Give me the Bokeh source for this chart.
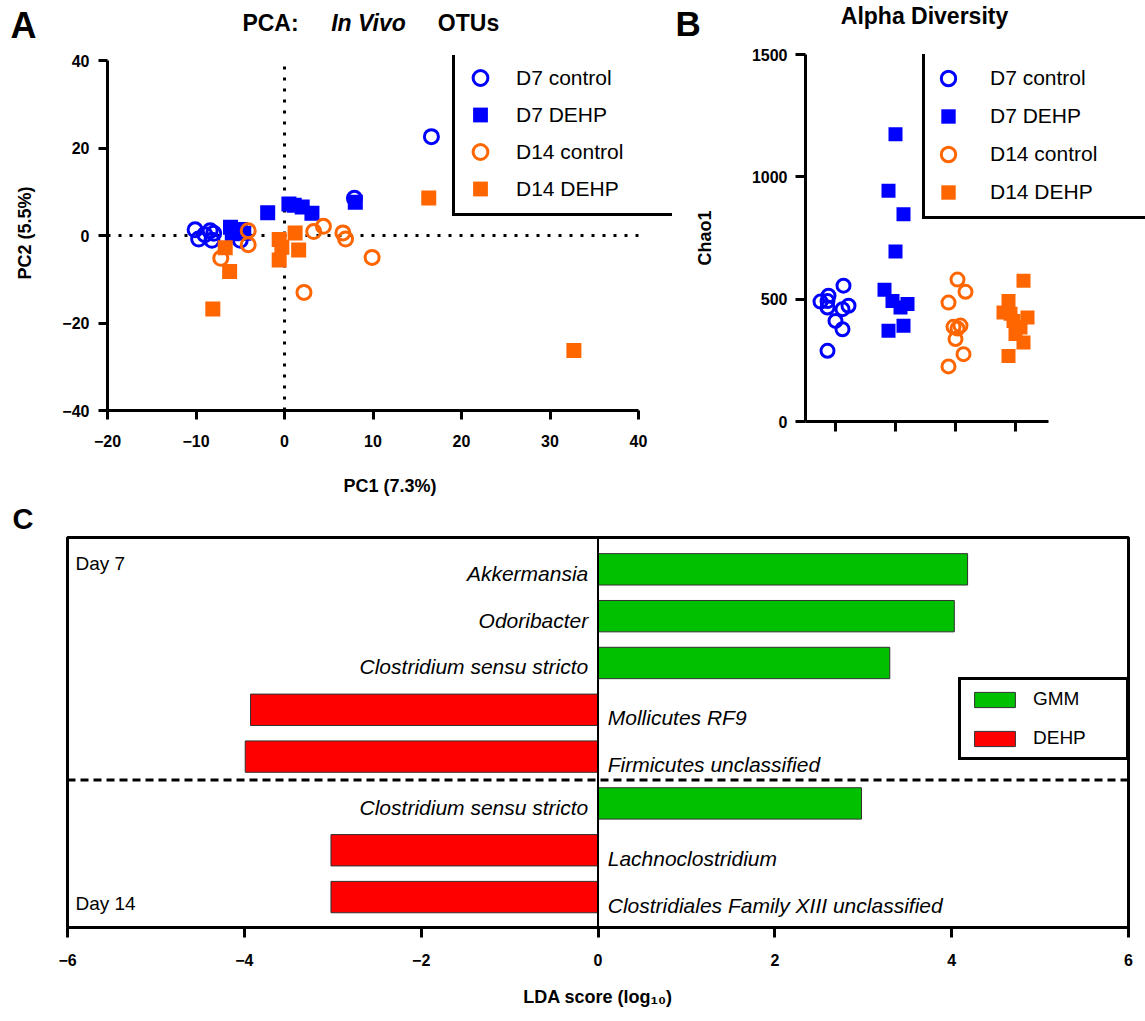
from bokeh.plotting import figure
from bokeh.models import Legend, LegendItem, Span, Label, FixedTicker, ColumnDataSource, Range1d
from bokeh.layouts import row, column
from bokeh.embed import file_html
from bokeh.resources import INLINE
from bokeh.core.properties import value

FONT = "Liberation Sans"
BLUE = "#0000FF"
ORANGE = "#FF6600"
GREEN = "#00C000"
RED = "#FF0000"

# ---------------- Panel A data (PCA) ----------------
d7_control_pc1 = [16.6, 7.9, -10.1, -9.7, -8.4, -8.2, -8.0, -9.0, -5.0]
d7_control_pc2 = [22.6, 8.5, 1.3, -0.8, 1.1, -1.1, 0.5, 0.2, -1.1]
d7_dehp_pc1 = [-1.9, 0.5, 2.0, 3.1, 8.0, -6.1, -5.9, -4.6, -5.0, 1.1]
d7_dehp_pc2 = [5.2, 7.2, 6.5, 5.1, 7.6, 1.9, 0.4, 0.5, 1.4, 6.9]
d14_control_pc1 = [-4.1, -4.1, -7.2, 2.2, 3.3, 4.4, 6.6, 6.9, 9.9]
d14_control_pc2 = [1.1, -2.1, -5.2, -13.0, 0.9, 2.1, 0.6, -0.8, -5.0]
d14_dehp_pc1 = [16.3, -6.7, -6.2, -8.1, -0.6, -0.3, -0.6, 1.2, 1.6, 32.7]
d14_dehp_pc2 = [8.6, -2.8, -8.2, -16.8, -0.9, -2.7, -5.6, 0.6, -3.3, -26.3]
pc1_ticks = [-20, -10, 0, 10, 20, 30, 40]
pc2_ticks = [-40, -20, 0, 20, 40]

# ---------------- Panel B data (Chao1) ----------------
groups = ["D7 control", "D7 DEHP", "D14 control", "D14 DEHP"]
chao1_d7_control = [555, 514, 492, 490, 473, 466, 459, 411, 377, 289]
chao1_d7_dehp = [1174, 943, 847, 695, 538, 493, 466, 480, 371, 391]
chao1_d14_control = [580, 530, 486, 392, 387, 380, 337, 275, 225]
chao1_d14_dehp = [575, 493, 445, 440, 425, 411, 384, 358, 323, 268]
chao1_ticks = [0, 500, 1000, 1500]
# horizontal scatter spread (pixels) for the dot plot
spread_d7_control = [8, -7, -8, -15, 13, -8, 7, 0, 7, -8]
spread_d7_dehp = [0, -7, 8, 0, -11, -3, 5, 12, -7, 8]
spread_d14_control = [2, 10, -7, 5, -2, 2, 0, 8, -7]
spread_d14_dehp = [8, -7, -12, -5, 12, -2, 5, 0, 8, -7]

# ---------------- Panel C data (LDA) ----------------
taxa = ["Akkermansia", "Odoribacter", "Clostridium sensu stricto", "Mollicutes RF9",
        "Firmicutes unclassified", "Clostridium sensu stricto", "Lachnoclostridium",
        "Clostridiales Family XIII unclassified"]
lda_score = [4.18, 4.03, 3.30, -3.93, -3.99, 2.98, -3.02, -3.02]
enriched_in = ["GMM", "GMM", "GMM", "DEHP", "DEHP", "GMM", "DEHP", "DEHP"]
day = [7, 7, 7, 7, 7, 14, 14, 14]
lda_ticks = [-6, -4, -2, 0, 2, 4, 6]


def style_axis(ax, tick_size="16px", out=9, standoff=8, lab_standoff=20):
    ax.axis_line_width = 3
    ax.axis_line_color = "black"
    ax.major_tick_line_width = 3
    ax.major_tick_line_color = "black"
    ax.major_tick_in = 0
    ax.major_tick_out = out
    ax.minor_tick_line_color = None
    ax.major_label_text_font = FONT
    ax.major_label_text_font_style = "bold"
    ax.major_label_text_font_size = tick_size
    ax.major_label_text_color = "black"
    ax.major_label_standoff = standoff
    ax.axis_label_text_font = FONT
    ax.axis_label_text_font_style = "bold"
    ax.axis_label_text_font_size = "18px"
    ax.axis_label_text_color = "black"
    ax.axis_label_standoff = lab_standoff


def legend_style(**kw):
    base = dict(spacing=0, margin=0, border_line_color="black", border_line_width=3,
                border_line_alpha=1.0, label_text_font=FONT, label_text_color="black",
                background_fill_color="white", background_fill_alpha=1.0)
    base.update(kw)
    return base


def strip(width, height, y_top, y_bottom):
    s = figure(width=width, height=height, x_range=Range1d(0, width), y_range=Range1d(y_bottom, y_top),
               x_axis_location=None, y_axis_location=None, min_border=0, output_backend="svg",
               toolbar_location=None)
    s.grid.visible = False
    s.outline_line_color = None
    return s


def text_label(p, x, y, text, size, style="bold", align="left"):
    p.add_layout(Label(x=x, y=y, text=text, text_font=FONT, text_font_size=size,
                       text_font_style=style, text_align=align, text_baseline="middle",
                       text_color="black"))


# ================= Header strip (panel letters and titles) =================
top = strip(1145, 45, 0, 45)
text_label(top, 10, 25, "A", "36px")
text_label(top, 675, 23, "B", "35px")
text_label(top, 270, 22, "PCA:", "23px", align="center")
text_label(top, 368, 22, "In Vivo", "23px", style="bold italic", align="center")
text_label(top, 468, 22, "OTUs", "23px", align="center")
text_label(top, 924, 15, "Alpha Diversity", "23px", align="center")

# ================= Panel A =================
PXA = 531 / 60.0
pA = figure(width=690, height=456, x_range=Range1d(-20, 40 + 34 / PXA), y_range=Range1d(-40, 40 + 5 / 4.375),
            output_backend="svg", toolbar_location=None,
            min_border_left=107, min_border_right=18, min_border_top=10, min_border_bottom=91)
pA.grid.visible = False
pA.outline_line_color = None
pA.xaxis.ticker = FixedTicker(ticks=pc1_ticks)
pA.yaxis.ticker = FixedTicker(ticks=pc2_ticks)
pA.xaxis.bounds = (pc1_ticks[0], pc1_ticks[-1])
pA.yaxis.bounds = (pc2_ticks[0], pc2_ticks[-1])
style_axis(pA.xaxis[0], standoff=15, lab_standoff=26)
style_axis(pA.yaxis[0], standoff=9, lab_standoff=24)
pA.xaxis.axis_label = "PC1 (7.3%)"
pA.yaxis.axis_label = "PC2 (5.5%)"

pA.segment(x0=[0], y0=[pc2_ticks[0]], x1=[0], y1=[pc2_ticks[-1]], line_color="black", line_width=3,
           line_dash="3 8")
pA.segment(x0=[pc1_ticks[0]], y0=[0], x1=[pc1_ticks[-1]], y1=[0], line_color="black", line_width=3,
           line_dash="3 8")

rA1 = pA.scatter(d7_control_pc1, d7_control_pc2, marker="circle", size=14, line_width=3,
                 line_color=BLUE, fill_color=None)
rA2 = pA.scatter(d7_dehp_pc1, d7_dehp_pc2, marker="square", size=15, line_color=None, fill_color=BLUE)
rA3 = pA.scatter(d14_control_pc1, d14_control_pc2, marker="circle", size=14, line_width=3,
                 line_color=ORANGE, fill_color=None)
rA4 = pA.scatter(d14_dehp_pc1, d14_dehp_pc2, marker="square", size=15, line_color=None, fill_color=ORANGE)

legA = Legend(items=[LegendItem(label=g, renderers=[r]) for g, r in zip(groups, [rA1, rA2, rA3, rA4])],
              **legend_style(location=(345, 194), padding=6, glyph_width=38, glyph_height=37,
                             label_standoff=17, label_width=151, label_text_font_size="21px"))
pA.add_layout(legA)

# ================= Panel B =================
PX = 60.0  # pixels per category
pB = figure(width=455, height=456, x_range=Range1d(0.5, 0.5 + 340 / PX), y_range=Range1d(0, 1500),
            output_backend="svg", toolbar_location=None,
            min_border_left=115, min_border_right=0, min_border_top=9, min_border_bottom=80)
pB.grid.visible = False
pB.outline_line_color = None
group_pos = list(range(1, len(groups) + 1))
pB.xaxis.ticker = FixedTicker(ticks=group_pos)
pB.xaxis.major_label_overrides = {g: "" for g in group_pos}
pB.xaxis.bounds = (0.5, 0.5 + 243 / PX)
pB.yaxis.ticker = FixedTicker(ticks=chao1_ticks)
style_axis(pB.xaxis[0], out=10, standoff=5)
style_axis(pB.yaxis[0], out=10, standoff=8, lab_standoff=34)
pB.yaxis.axis_label = "Chao1"


def spread_x(pos, spread):
    return [pos + s / PX for s in spread]


rB1 = pB.scatter(spread_x(group_pos[0], spread_d7_control), chao1_d7_control, marker="circle", size=13,
                 line_width=3, line_color=BLUE, fill_color=None)
rB2 = pB.scatter(spread_x(group_pos[1], spread_d7_dehp), chao1_d7_dehp, marker="square", size=14,
                 line_color=None, fill_color=BLUE)
rB3 = pB.scatter(spread_x(group_pos[2], spread_d14_control), chao1_d14_control, marker="circle", size=13,
                 line_width=3, line_color=ORANGE, fill_color=None)
rB4 = pB.scatter(spread_x(group_pos[3], spread_d14_dehp), chao1_d14_dehp, marker="square", size=14,
                 line_color=None, fill_color=ORANGE)

legB = Legend(items=[LegendItem(label=g, renderers=[r]) for g, r in zip(groups, [rB1, rB2, rB3, rB4])],
              **legend_style(location=(117, 202), padding=5, glyph_width=36, glyph_height=38,
                             label_standoff=24, label_width=200, label_text_font_size="21px"))
pB.add_layout(legB)

# ================= Strip for panel C letter =================
cstrip = strip(1145, 34, 501, 535)
text_label(cstrip, 12, 518, "C", "29px")

# ================= Panel C =================
pC = figure(width=1145, height=486, x_range=Range1d(-6, 6), y_range=Range1d(0.35, 8.68),
            output_backend="svg", toolbar_location=None, y_axis_location=None,
            min_border_left=67, min_border_right=17, min_border_top=2, min_border_bottom=94)
pC.grid.visible = False
pC.outline_line_color = "black"
pC.outline_line_width = 3
pC.xaxis.ticker = FixedTicker(ticks=lda_ticks)
style_axis(pC.xaxis[0], tick_size="16px", out=10, standoff=16, lab_standoff=18)
pC.xaxis.axis_label = "LDA score (log\u2081\u2080)"

n = len(taxa)
ypos = [n - i for i in range(n)]
renderers_C = {}
for grp, col in [("GMM", GREEN), ("DEHP", RED)]:
    idx = [i for i in range(n) if enriched_in[i] == grp]
    src = ColumnDataSource(dict(y=[ypos[i] for i in idx], right=[lda_score[i] for i in idx]))
    renderers_C[grp] = pC.hbar(y="y", left=0, right="right", height=0.67, fill_color=col,
                               line_color="#303030", line_width=1, source=src)

pC.add_layout(Span(location=0, dimension="height", line_color="black", line_width=2))
pC.add_layout(Span(location=3.5, dimension="width", line_color="black", line_width=3, line_dash="8 5"))

pos_idx = [i for i in range(n) if lda_score[i] > 0]
neg_idx = [i for i in range(n) if lda_score[i] < 0]
src_pos = ColumnDataSource(dict(x=[-0.11] * len(pos_idx), y=[ypos[i] for i in pos_idx],
                                t=[taxa[i] for i in pos_idx]))
src_neg = ColumnDataSource(dict(x=[0.11] * len(neg_idx), y=[ypos[i] for i in neg_idx],
                                t=[taxa[i] for i in neg_idx]))
pC.text(x="x", y="y", text="t", source=src_pos, text_align="right", text_baseline="middle",
        y_offset=4, text_font=value(FONT), text_font_style="italic", text_font_size="21px",
        text_color="black")
pC.text(x="x", y="y", text="t", source=src_neg, text_align="left", text_baseline="middle",
        y_offset=8, text_font=value(FONT), text_font_style="italic", text_font_size="21px",
        text_color="black")

pC.add_layout(Label(x=-5.91, y=max(ypos), text="Day %d" % day[0], text_font=FONT, text_font_size="19px",
                    text_baseline="middle", y_offset=6, text_color="black"))
pC.add_layout(Label(x=-5.91, y=min(ypos), text="Day %d" % day[-1], text_font=FONT, text_font_size="19px",
                    text_baseline="middle", y_offset=-6, text_color="black"))

legC = Legend(items=[LegendItem(label=g, renderers=[renderers_C[g]]) for g in ["GMM", "DEHP"]],
              **legend_style(location=(891, 167), padding=8, spacing=17, glyph_width=51, glyph_height=19,
                             label_standoff=13, label_width=85, label_text_font_size="19px"))
pC.add_layout(legC)

layout = column(row(top), row(column(pA), column(pB)), row(cstrip), row(pC))
open("out.html", "w").write(file_html(layout, INLINE))
